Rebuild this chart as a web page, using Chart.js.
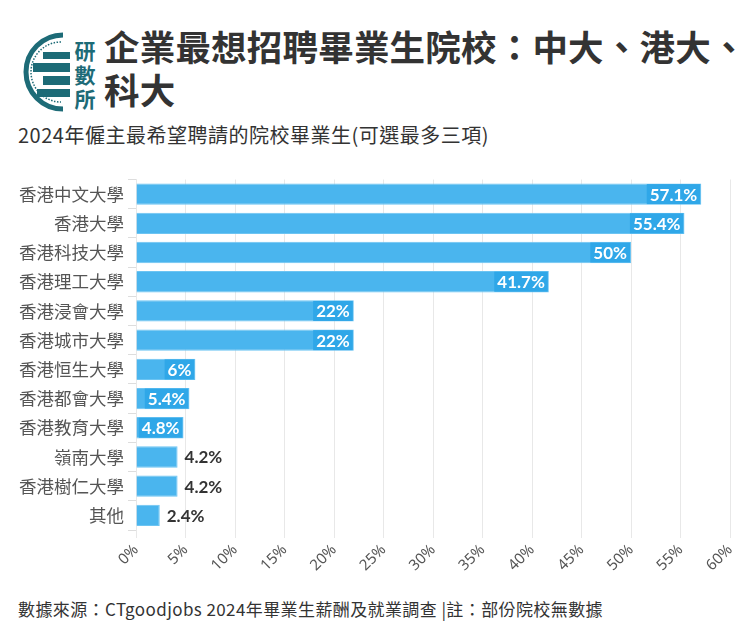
<!DOCTYPE html>
<html>
<head>
<meta charset="utf-8">
<script src="https://cdn.jsdelivr.net/npm/chart.js@4"></script>
<style>
  body { margin: 0; background: #fff; font-family: "Noto Sans CJK TC", "Noto Sans", sans-serif; color: #333; }
  #page { position: relative; width: 754px; height: 631px; overflow: hidden; }
  #logo { position: absolute; left: 15px; top: 30px; }
  #title { position: absolute; left: 104px; top: 24px; font-size: 35.5px; font-weight: 700; line-height: 43px; color: #333; letter-spacing: 0.2px; white-space: nowrap; }
  #subtitle { position: absolute; left: 18px; top: 120px; font-size: 20px; letter-spacing: 0.5px; color: #333; }
  #source { position: absolute; left: 18px; top: 596px; font-size: 17px; letter-spacing: 0.4px; color: #333; }
  #wrap { position: absolute; left: 0; top: 165px; width: 754px; height: 420px; }
</style>
</head>
<body>
<div id="page">
  <svg id="logo" width="84" height="84" viewBox="0 0 84 84">
    <g fill="none" stroke="#1d6b77">
      <path d="M48 5 A37 37 0 1 0 48 79" stroke-width="5"/>
      <path d="M46 12 A30 30 0 1 0 46 72" stroke-width="1.5" stroke-dasharray="1.5 1.5"/>
    </g>
    <g fill="#1d6b77">
      <rect x="28" y="22" width="27" height="7"/>
      <rect x="18" y="33" width="37" height="9"/>
      <rect x="28" y="46" width="27" height="9"/>
      <rect x="22" y="59" width="33" height="8"/>
      <text x="70" y="29" font-size="21" font-weight="700" text-anchor="middle" font-family="Noto Sans CJK TC">研</text>
      <text x="70" y="53" font-size="21" font-weight="700" text-anchor="middle" font-family="Noto Sans CJK TC">數</text>
      <text x="70" y="77" font-size="21" font-weight="700" text-anchor="middle" font-family="Noto Sans CJK TC">所</text>
    </g>
  </svg>
  <div id="title">企業最想招聘畢業生院校：中大、港大、<br>科大</div>
  <div id="subtitle">2024年僱主最希望聘請的院校畢業生(可選最多三項)</div>
  <div id="wrap"><canvas id="chart" width="754" height="420"></canvas></div>
  <div id="source">數據來源：CTgoodjobs 2024年畢業生薪酬及就業調查 |註：部份院校無數據</div>
</div>
<script>
const categories = ['香港中文大學', '香港大學', '香港科技大學', '香港理工大學', '香港浸會大學', '香港城市大學',
  '香港恒生大學', '香港都會大學', '香港教育大學', '嶺南大學', '香港樹仁大學', '其他'];
const values = [57.1, 55.4, 50, 41.7, 22, 22, 6, 5.4, 4.8, 4.2, 4.2, 2.4];
const valueLabels = ['57.1%', '55.4%', '50%', '41.7%', '22%', '22%', '6%', '5.4%', '4.8%', '4.2%', '4.2%', '2.4%'];
const insideMin = 4.5;

// Draw value labels inside or after each bar
const barLabels = {
  id: 'barLabels',
  afterDatasetsDraw(chart) {
    const ctx = chart.ctx;
    const meta = chart.getDatasetMeta(0);
    ctx.save();
    ctx.font = 'bold 17px Lato, "Noto Sans", sans-serif';
    ctx.textBaseline = 'middle';
    meta.data.forEach((bar, i) => {
      const txt = valueLabels[i];
      const w = ctx.measureText(txt).width;
      if (values[i] >= insideMin) {
        const x = bar.x - 4 - w;
        ctx.fillStyle = '#2fa7e8';
        ctx.fillRect(x - 3, bar.y - 10, w + 6, 20);
        ctx.fillStyle = '#fff';
        ctx.textAlign = 'left';
        ctx.fillText(txt, x, bar.y + 1);
      } else {
        ctx.fillStyle = '#333';
        ctx.textAlign = 'left';
        ctx.fillText(txt, bar.x + 7, bar.y + 1);
      }
    });
    ctx.restore();
  }
};

new Chart(document.getElementById('chart'), {
  type: 'bar',
  data: {
    labels: categories,
    datasets: [{
      data: values,
      backgroundColor: '#4ab5ee',
      borderColor: '#6cc4f2',
      borderWidth: 1,
      barPercentage: 0.73,
      categoryPercentage: 1
    }]
  },
  options: {
    indexAxis: 'y',
    responsive: false,
    animation: false,
    layout: { padding: { top: 8, right: 24, bottom: 0, left: 0 } },
    plugins: { legend: { display: false }, tooltip: { enabled: false } },
    scales: {
      x: {
        min: 0,
        max: 60,
        ticks: {
          stepSize: 5,
          minRotation: 45,
          maxRotation: 45,
          color: '#555',
          font: { size: 15, family: '"Noto Sans", sans-serif' },
          callback: v => v + '%'
        },
        grid: { color: '#e8e8e8', tickLength: 8, tickColor: '#e8e8e8' },
        border: { display: false },
        afterFit: s => { s.height = 55; }
      },
      y: {
        ticks: {
          color: '#555',
          font: { size: 17.5, family: '"Noto Sans CJK TC", sans-serif' },
          padding: 4
        },
        grid: { drawOnChartArea: false, tickLength: 8, tickColor: '#ddd' },
        border: { color: '#e8e8e8' },
        afterFit: s => { s.width = 136; }
      }
    }
  },
  plugins: [barLabels]
});
</script>
</body>
</html>
